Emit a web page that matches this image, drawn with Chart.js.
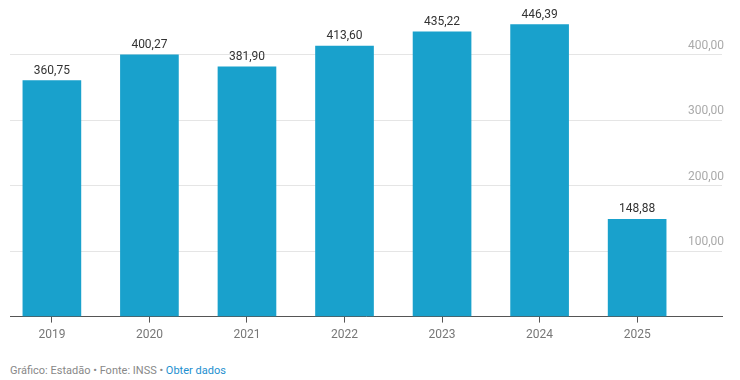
<!DOCTYPE html>
<html><head><meta charset="utf-8">
<script src="https://cdn.jsdelivr.net/npm/chart.js@4"></script>
<style>
html,body{margin:0;padding:0;background:#fff;}
#wrap{position:relative;width:740px;height:350px;}
#foot{position:absolute;left:10px;top:364px;font:11px Roboto,sans-serif;color:#888;white-space:nowrap;}
#foot span{color:#1d8fcf;}
</style></head>
<body>
<div id="wrap"><canvas id="c"></canvas></div>
<div id="foot">Gráfico: Estadão • Fonte: INSS • <span>Obter dados</span></div>
<script>
const years = ['2019','2020','2021','2022','2023','2024','2025'];
const values = [360.75, 400.27, 381.90, 413.60, 435.22, 446.39, 148.88];
const yTicks = [0, 100, 200, 300, 400];

const fmt = v => v.toFixed(2).replace('.', ',');

const barLabels = {
  id: 'barLabels',
  afterDatasetsDraw(chart) {
    const ctx = chart.ctx;
    const meta = chart.getDatasetMeta(0);
    ctx.save();
    ctx.font = '12px Roboto, sans-serif';
    ctx.fillStyle = '#333';
    ctx.textAlign = 'center';
    ctx.textBaseline = 'bottom';
    meta.data.forEach((bar, i) => {
      ctx.fillText(fmt(values[i]), bar.x, bar.y - 4);
    });
    ctx.restore();
  }
};

new Chart(document.getElementById('c'), {
  type: 'bar',
  data: {
    datasets: [{
      data: years.map((y, i) => ({x: i, y: values[i]})),
      backgroundColor: '#19a1cc',
      barThickness: 58
    }]
  },
  options: {
    responsive: true,
    maintainAspectRatio: false,
    animation: false,
    layout: {padding: {left: 10, right: 14, top: 1, bottom: 3}},
    plugins: {legend: {display: false}, tooltip: {enabled: false}},
    scales: {
      x: {
        type: 'linear',
        min: -0.4294,
        max: 6.87,
        offset: false,
        grid: {display: true, offset: false, drawOnChartArea: false, drawTicks: true, tickLength: 6, tickColor: '#555', tickWidth: 1},
        border: {display: true, color: '#555', width: 1},
        ticks: {
          stepSize: 1,
          includeBounds: false,
          autoSkip: false,
          maxRotation: 0,
          padding: 5,
          color: '#777',
          font: {family: 'Roboto', size: 12},
          callback: v => (Number.isInteger(v) && years[v] !== undefined) ? years[v] : ''
        }
      },
      y: {
        position: 'right',
        min: 0,
        max: 470,
        afterBuildTicks: s => { s.ticks = yTicks.map(v => ({value: v})); },
        grid: {color: '#e5e5e5', drawTicks: false, tickLength: 0},
        border: {display: false},
        ticks: {
          mirror: true,
          padding: 2,
          labelOffset: -9,
          color: '#aaa',
          font: {family: 'Roboto', size: 12},
          callback: v => v === 0 ? '' : fmt(v)
        }
      }
    }
  },
  plugins: [barLabels]
});
</script>
</body></html>
